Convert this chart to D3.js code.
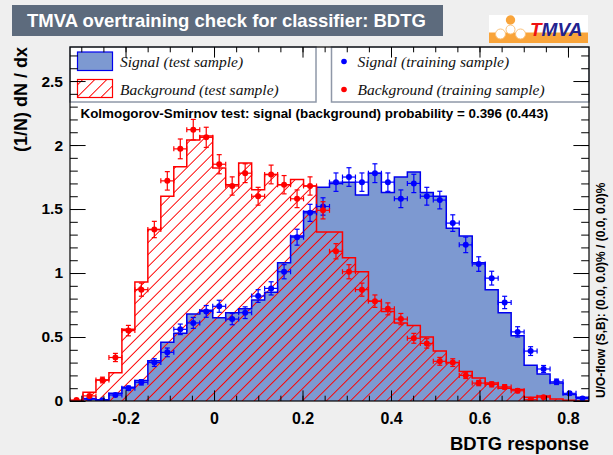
<!DOCTYPE html>
<html>
<head>
<meta charset="utf-8">
<script src="https://cdn.jsdelivr.net/npm/d3@7"></script>
<style>
  body { margin: 0; background: #efefef; }
  svg { display: block; }
  text { font-family: 'Liberation Sans', Arial, Helvetica, sans-serif; }
</style>
</head>
<body>
<div id="chart"></div>
<script>
'use strict'

// BDTG response histogram: 40 bins
const xRange = [-0.3255, 0.8475]
const nBins = 40

const signalTest = [
  0, 0.015, 0.01, 0.06, 0.107, 0.16, 0.315, 0.46, 0.53, 0.68,
  0.71, 0.65, 0.69, 0.72, 0.79, 0.85, 1.08, 1.29, 1.48, 1.67,
  1.70, 1.71, 1.61, 1.78, 1.63, 1.75, 1.79, 1.63, 1.60, 1.35,
  1.29, 1.08, 0.87, 0.69, 0.51, 0.28, 0.21, 0.14, 0.05, 0.03
]
const backgroundTest = [
  0, 0.068, 0.164, 0.22, 0.56, 0.93, 1.34, 1.60, 1.83, 2.04,
  2.07, 1.82, 1.69, 1.86, 1.65, 1.77, 1.69, 1.73, 1.68, 1.32,
  1.32, 1.12, 1.01, 0.78, 0.70, 0.61, 0.59, 0.50, 0.39, 0.30,
  0.23, 0.18, 0.14, 0.10, 0.09, 0.03, 0.04, 0.015, 0.005, 0
]
const signalTrain = [
  0, 0.02, 0.005, 0.047, 0.10, 0.146, 0.30, 0.38, 0.56, 0.61,
  0.70, 0.74, 0.64, 0.69, 0.82, 0.88, 1.01, 1.28, 1.47, 1.52,
  1.71, 1.75, 1.71, 1.78, 1.71, 1.58, 1.70, 1.60, 1.57, 1.39,
  1.22, 1.07, 0.96, 0.77, 0.54, 0.39, 0.25, 0.15, 0.06, 0.02
]
const backgroundTrain = [
  0.008, 0.04, 0.164, 0.34, 0.55, 0.87, 1.34, 1.72, 1.97, 2.12,
  2.06, 1.85, 1.68, 1.78, 1.60, 1.77, 1.69, 1.58, 1.68, 1.49,
  1.17, 1.01, 0.87, 0.78, 0.72, 0.64, 0.49, 0.45, 0.31, 0.30,
  0.20, 0.14, 0.13, 0.11, 0.08, 0.01, 0.03, 0, 0, 0
]

const xTicks = [-0.2, 0, 0.2, 0.4, 0.6, 0.8]
const yTicks = [0, 0.5, 1, 1.5, 2, 2.5]

const titleText = 'TMVA overtraining check for classifier: BDTG'
const ksText = 'Kolmogorov-Smirnov test: signal (background) probability = 0.396 (0.443)'
const flowText = 'U/O-flow (S,B): (0.0, 0.0)% / (0.0, 0.0)%'

const width = 613
const height = 455
const frameL = 70, frameR = 589, frameT = 47, frameB = 401

const blueLine = '#0000ee'
const blueFill = '#7d99d1'
const red = '#ff0000'

const svg = d3.select('#chart')
  .append('svg')
  .attr('width', width)
  .attr('height', height)

svg.append('rect')
  .attr('width', width)
  .attr('height', height)
  .attr('fill', '#efefef')

const defs = svg.append('defs')
const pat = defs.append('pattern')
  .attr('id', 'hatch')
  .attr('patternUnits', 'userSpaceOnUse')
  .attr('width', 8.5)
  .attr('height', 8.5)
  .attr('patternTransform', 'rotate(45)')
pat.append('line')
  .attr('x1', 4.25).attr('y1', 0)
  .attr('x2', 4.25).attr('y2', 8.5)
  .attr('stroke', red)
  .attr('stroke-width', 1)

defs.append('clipPath').attr('id', 'plotclip')
  .append('rect')
  .attr('x', frameL).attr('y', frameT)
  .attr('width', frameR - frameL).attr('height', frameB - frameT)

// title
svg.append('rect')
  .attr('x', 12).attr('y', 5)
  .attr('width', 431).attr('height', 31)
  .attr('fill', '#5d6b7d')
svg.append('text')
  .attr('x', 27).attr('y', 27)
  .attr('fill', '#fff')
  .attr('font-size', 18.5)
  .attr('font-weight', 'bold')
  .text(titleText)

// TMVA logo
const orange = '#f9a43a'
const logo = svg.append('g')
logo.append('rect').attr('x', 489).attr('y', 15).attr('width', 99).attr('height', 28).attr('fill', '#fff')
logo.append('rect').attr('x', 489).attr('y', 32.5).attr('width', 99).attr('height', 10.5).attr('fill', orange)
logo.append('circle').attr('cx', 510.5).attr('cy', 20).attr('r', 4.7).attr('fill', orange)
logo.append('circle').attr('cx', 510.5).attr('cy', 29.5).attr('r', 4.5).attr('fill', '#fff').attr('stroke', '#fbc27a')
logo.append('circle').attr('cx', 500.5).attr('cy', 34).attr('r', 5).attr('fill', '#fff').attr('stroke', '#fbc27a')
logo.append('circle').attr('cx', 520.5).attr('cy', 34).attr('r', 5).attr('fill', '#fff').attr('stroke', '#fbc27a')
const logoText = logo.append('text')
  .attr('x', 530).attr('y', 36)
  .attr('font-size', 19)
  .attr('font-weight', 'bold')
  .attr('font-style', 'italic')
logoText.append('tspan').attr('fill', '#ee1111').text('T')
logoText.append('tspan').attr('fill', '#22228f').text('MVA')

const x = d3.scaleLinear().domain(xRange).range([frameL, frameR])
const y = d3.scaleLinear().domain([0, 2.766]).range([frameB, frameT])

const binW = (xRange[1] - xRange[0]) / nBins
const edges = d3.range(nBins + 1).map(i => xRange[0] + i * binW)

const steps = vals => [[edges[0], 0]]
  .concat(vals.map((v, i) => [edges[i], v]))
  .concat([[edges[nBins], vals[nBins - 1]], [edges[nBins], 0]])

const area = d3.area()
  .x(d => x(d[0]))
  .y0(y(0))
  .y1(d => y(d[1]))
  .curve(d3.curveStepAfter)

const line = d3.line()
  .x(d => x(d[0]))
  .y(d => y(d[1]))
  .curve(d3.curveStepAfter)

svg.append('rect')
  .attr('x', frameL).attr('y', frameT)
  .attr('width', frameR - frameL).attr('height', frameB - frameT)
  .attr('fill', '#fff')

const plot = svg.append('g').attr('clip-path', 'url(#plotclip)')

plot.append('path').attr('d', area(steps(signalTest))).attr('fill', blueFill)
plot.append('path').attr('d', area(steps(backgroundTest))).attr('fill', 'url(#hatch)')
plot.append('path').attr('d', line(steps(signalTest)))
  .attr('fill', 'none').attr('stroke', blueLine).attr('stroke-width', 1.5)
plot.append('path').attr('d', line(steps(backgroundTest)))
  .attr('fill', 'none').attr('stroke', red).attr('stroke-width', 1.5)

// training samples as points with error bars
const drawPoints = function(vals, color) {
  const g = plot.append('g')
    .attr('stroke', color)
    .attr('fill', color)
    .attr('stroke-width', 1.2)
  vals.forEach((v, i) => {
    if (v <= 0) return
    const cx = x(edges[i] + binW / 2)
    const cy = y(v)
    const err = 0.055 * Math.sqrt(v)
    const x0 = x(edges[i]), x1 = x(edges[i + 1])
    const ya = y(v + err), yb = y(v - err)
    g.append('line').attr('x1', x0).attr('x2', x1).attr('y1', cy).attr('y2', cy)
    g.append('line').attr('x1', x0).attr('x2', x0).attr('y1', cy - 2.5).attr('y2', cy + 2.5)
    g.append('line').attr('x1', x1).attr('x2', x1).attr('y1', cy - 2.5).attr('y2', cy + 2.5)
    g.append('line').attr('x1', cx).attr('x2', cx).attr('y1', ya).attr('y2', yb)
    g.append('line').attr('x1', cx - 2.5).attr('x2', cx + 2.5).attr('y1', ya).attr('y2', ya)
    g.append('line').attr('x1', cx - 2.5).attr('x2', cx + 2.5).attr('y1', yb).attr('y2', yb)
    g.append('circle').attr('cx', cx).attr('cy', cy).attr('r', 3).attr('stroke', 'none')
  })
}
drawPoints(signalTrain, '#0000ff')
drawPoints(backgroundTrain, red)

// legends
const legBorder = '#8f98a8'
svg.append('rect')
  .attr('x', frameL).attr('y', frameT).attr('width', 246).attr('height', 55)
  .attr('fill', '#fff').attr('stroke', legBorder).attr('stroke-width', 1.5)
svg.append('rect')
  .attr('x', 331.5).attr('y', frameT).attr('width', frameR - 331.5).attr('height', 55)
  .attr('fill', '#fff').attr('stroke', legBorder).attr('stroke-width', 1.5)

svg.append('rect').attr('x', 77.5).attr('y', 52).attr('width', 35).attr('height', 18.5)
  .attr('fill', blueFill).attr('stroke', blueLine).attr('stroke-width', 1.2)
svg.append('rect').attr('x', 77.5).attr('y', 79.5).attr('width', 35).attr('height', 18)
  .attr('fill', 'url(#hatch)').attr('stroke', red).attr('stroke-width', 1.2)
svg.append('circle').attr('cx', 344).attr('cy', 61.5).attr('r', 2.8).attr('fill', '#0000ff')
svg.append('circle').attr('cx', 344).attr('cy', 89.5).attr('r', 2.8).attr('fill', red)

const legendItems = [
  { label: 'Signal (test sample)', x: 120, y: 67 },
  { label: 'Background (test sample)', x: 120, y: 94.5 },
  { label: 'Signal (training sample)', x: 357.5, y: 67 },
  { label: 'Background (training sample)', x: 357.5, y: 94.5 }
]
svg.selectAll('text.leg')
  .data(legendItems)
  .enter()
  .append('text')
  .attr('class', 'leg')
  .attr('x', d => d.x)
  .attr('y', d => d.y)
  .attr('font-size', 15.5)
  .attr('font-style', 'italic')
  .attr('fill', '#111')
  .style('font-family', "'Liberation Serif', 'Times New Roman', serif")
  .text(d => d.label)

svg.append('text')
  .attr('x', 80.5).attr('y', 118)
  .attr('font-size', 13.4)
  .attr('font-weight', 'bold')
  .text(ksText)

// axes, ticks pointing inward on all four sides
const minorX = d3.range(-0.3, 0.85, 0.05).map(d => +d.toFixed(2))
const minorY = d3.range(0, 2.75, 0.1).map(d => +d.toFixed(1))

const styleAxis = function(g) {
  g.select('.domain').remove()
  g.selectAll('line').attr('stroke', '#000').attr('stroke-width', 1)
}

svg.append('g').attr('transform', `translate(0,${frameB})`)
  .call(d3.axisBottom(x).tickValues(minorX).tickSize(-5.3).tickFormat(''))
  .call(styleAxis)
svg.append('g').attr('transform', `translate(0,${frameB})`)
  .call(d3.axisBottom(x).tickValues(xTicks).tickSize(-10.6).tickPadding(12).tickFormat(d => String(d)))
  .call(styleAxis)
  .selectAll('text')
  .attr('font-size', 16).attr('font-weight', 'bold').attr('fill', '#000')
  .style('font-family', "'Liberation Sans', Arial, sans-serif")

svg.append('g').attr('transform', `translate(0,${frameT})`)
  .call(d3.axisTop(x).tickValues(minorX).tickSize(-5.3).tickFormat(''))
  .call(styleAxis)
svg.append('g').attr('transform', `translate(0,${frameT})`)
  .call(d3.axisTop(x).tickValues(xTicks).tickSize(-10.6).tickFormat(''))
  .call(styleAxis)

svg.append('g').attr('transform', `translate(${frameL},0)`)
  .call(d3.axisLeft(y).tickValues(minorY).tickSize(-7.8).tickFormat(''))
  .call(styleAxis)
svg.append('g').attr('transform', `translate(${frameL},0)`)
  .call(d3.axisLeft(y).tickValues(yTicks).tickSize(-15.6).tickPadding(7).tickFormat(d => String(d)))
  .call(styleAxis)
  .selectAll('text')
  .attr('font-size', 15.5).attr('font-weight', 'bold').attr('fill', '#000')
  .style('font-family', "'Liberation Sans', Arial, sans-serif")

svg.append('g').attr('transform', `translate(${frameR},0)`)
  .call(d3.axisRight(y).tickValues(minorY).tickSize(-7.8).tickFormat(''))
  .call(styleAxis)
svg.append('g').attr('transform', `translate(${frameR},0)`)
  .call(d3.axisRight(y).tickValues(yTicks).tickSize(-15.6).tickFormat(''))
  .call(styleAxis)

// frame
svg.append('rect')
  .attr('x', frameL).attr('y', frameT)
  .attr('width', frameR - frameL).attr('height', frameB - frameT)
  .attr('fill', 'none').attr('stroke', '#000').attr('stroke-width', 1.2)

// axis titles
svg.append('text')
  .attr('x', frameR).attr('y', 450)
  .attr('text-anchor', 'end')
  .attr('font-size', 18.4)
  .attr('font-weight', 'bold')
  .text('BDTG response')

svg.append('text')
  .attr('transform', `translate(27,${frameT}) rotate(-90)`)
  .attr('text-anchor', 'end')
  .attr('font-size', 18)
  .attr('font-weight', 'bold')
  .text('(1/N) dN / dx')

svg.append('text')
  .attr('transform', 'translate(605,398) rotate(-90)')
  .attr('font-size', 12)
  .attr('font-weight', 'bold')
  .text(flowText)
</script>
</body>
</html>
